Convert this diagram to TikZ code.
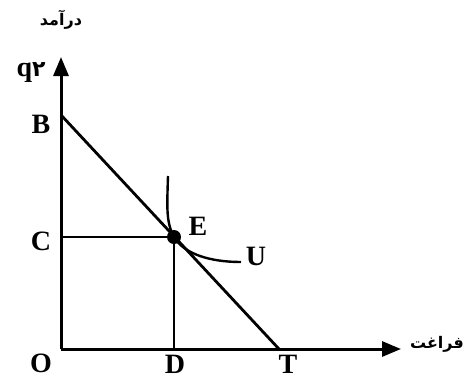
\documentclass[tikz,border=0pt]{standalone}
\usepackage{fontspec}
\setmainfont{Liberation Serif}
\newfontfamily\arabicfont[Script=Arabic]{DejaVu Sans}
\TeXXeTstate=1
\usetikzlibrary{arrows.meta}
\begin{document}
\begin{tikzpicture}[x=1pt,y=-1pt,line width=2.8pt,
  lbl/.style={font=\bfseries\fontsize{28}{28}\selectfont,inner sep=0pt},
  fa/.style={font=\arabicfont\bfseries\fontsize{16}{16}\selectfont,inner sep=0pt},
  axis/.style={line width=3pt,-{Triangle[length=19pt,width=15pt]}}]
\useasboundingbox (0,0) rectangle (465,378);
\coordinate (O) at (61,349);
\coordinate (Y) at (61,57);
\coordinate (X) at (401,349);
\coordinate (Bp) at (61,115);
\coordinate (Tp) at (279,349);
\coordinate (Ep) at (174,237);
\coordinate (Cp) at (61,237);
\coordinate (Dp) at (174,349);
\coordinate (U0) at (168,176);
\coordinate (U1) at (241,262);
\draw[axis] (O) -- (Y);
\draw[axis] (O) -- (X);
\draw (Bp) -- (Tp);
\draw (Cp) -- (Ep) -- (Dp);
\draw[line width=2.4pt] (U0) .. controls (167,208) and (166,222) .. (Ep)
  .. controls (184,254) and (210,262) .. (U1);
\fill (Ep) circle (7pt);
\node[lbl] (lB) at (41,124) {B};
\node[lbl] (lC) at (41,241) {C};
\node[lbl] (lO) at (41,363) {O};
\node[lbl] (lD) at (175,364) {D};
\node[lbl] (lT) at (288,364) {T};
\node[lbl] (lE) at (198,226) {E};
\node[lbl] (lU) at (256,256) {U};
\node[lbl] (lq) at (31,72) {q{\arabicfont\fontsize{22}{22}\selectfont ۲}};
\node[fa] (ly) at (61,20) {\beginR درآمد\endR};
\node[fa] (lx) at (437,344) {\beginR فراغت\endR};
\end{tikzpicture}
\end{document}
